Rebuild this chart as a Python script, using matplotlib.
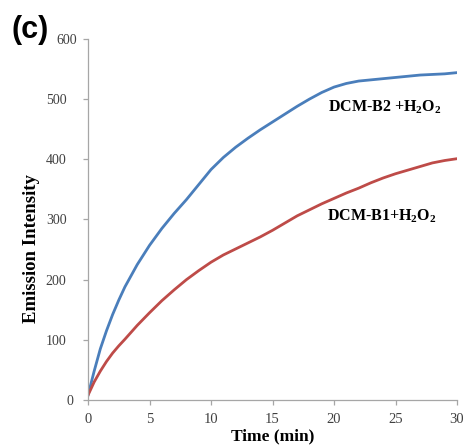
import matplotlib
matplotlib.use("Agg")
import matplotlib.pyplot as plt
from matplotlib.transforms import ScaledTranslation

plt.rcParams["mathtext.fontset"] = "custom"
plt.rcParams["mathtext.rm"] = "Liberation Serif:bold"
plt.rcParams["mathtext.bf"] = "Liberation Serif:bold"
plt.rcParams["mathtext.it"] = "Liberation Serif:bold"

time_min = [0, 0.5, 1, 1.5, 2, 2.5, 3, 4, 5, 6, 7, 8, 9, 10, 11, 12, 13, 14, 15,
            16, 17, 18, 19, 20, 21, 22, 23, 24, 25, 26, 27, 28, 29, 30]
dcm_b2 = [8, 48, 85, 115, 142, 166, 188, 225, 257, 285, 310, 333, 358, 383, 403,
          420, 435, 449, 462, 475, 488, 500, 511, 520, 526, 530, 532, 534, 536,
          538, 540, 541, 542, 544]
dcm_b1 = [8, 30, 48, 64, 78, 90, 101, 124, 145, 165, 183, 200, 215, 229, 241,
          251, 261, 271, 282, 294, 306, 316, 326, 335, 344, 352, 361, 369, 376,
          382, 388, 394, 398, 401]
x_ticks = [0, 5, 10, 15, 20, 25, 30]
y_ticks = [0, 100, 200, 300, 400, 500, 600]

fig = plt.figure(figsize=(4.64, 4.48), dpi=100)
ax = fig.add_axes([0.1897, 0.1071, 0.7953, 0.806])

ax.plot(time_min, dcm_b2, color="#4a7ebb", lw=2.0)
ax.plot(time_min, dcm_b1, color="#be4b48", lw=2.0)

ax.set_xlim(0, 30)
ax.set_ylim(0, 600)
ax.set_xticks(x_ticks)
ax.set_yticks(y_ticks)
for s in ["top", "right"]:
    ax.spines[s].set_visible(False)
for s in ["left", "bottom"]:
    ax.spines[s].set_color("#a6a6a6")
    ax.spines[s].set_linewidth(0.9)
ax.tick_params(direction="out", length=3.5, color="#a6a6a6", width=0.9)
ax.tick_params(axis="x", pad=5.5)
ax.tick_params(axis="y", pad=12)
for lab in ax.get_xticklabels():
    lab.set_fontfamily("Liberation Serif")
    lab.set_fontsize(10.5)
    lab.set_color("#404040")
ylabs = ax.get_yticklabels()
for lab in ylabs:
    lab.set_fontfamily("Liberation Serif")
    lab.set_fontsize(10)
    lab.set_color("#404040")
# the reference shows the "600" and "0" labels nudged to the right
ylabs[-1].set_transform(ylabs[-1].get_transform()
                        + ScaledTranslation(11 / 100, 0, fig.dpi_scale_trans))
ylabs[0].set_transform(ylabs[0].get_transform()
                       + ScaledTranslation(7 / 100, 0, fig.dpi_scale_trans))

ax.set_xlabel("Time (min)", fontfamily="Liberation Serif", fontweight="bold",
              fontsize=12.5)
ax.xaxis.set_label_coords(0.5, -0.102)
ax.xaxis.label.set_verticalalignment("center")
ax.set_ylabel("Emission Intensity", fontfamily="Liberation Serif",
              fontweight="bold", fontsize=13.5)
ax.yaxis.set_label_coords(-0.152, 0.42)
ax.yaxis.label.set_verticalalignment("center")

ax.text(0.805, 0.81, r"DCM-B2 +H$_{\mathbf{2}}$O$_{\mathbf{2}}$",
        transform=ax.transAxes, fontfamily="Liberation Serif",
        fontweight="bold", fontsize=11.5, ha="center", va="center")
ax.text(0.795, 0.51, r"DCM-B1+H$_{\mathbf{2}}$O$_{\mathbf{2}}$",
        transform=ax.transAxes, fontfamily="Liberation Serif",
        fontweight="bold", fontsize=11.5, ha="center", va="center")

fig.text(0.024, 0.933, "(c)", fontfamily="Liberation Sans", fontweight="bold",
         fontsize=22, ha="left", va="center")

fig.savefig("out.png", dpi=100)
